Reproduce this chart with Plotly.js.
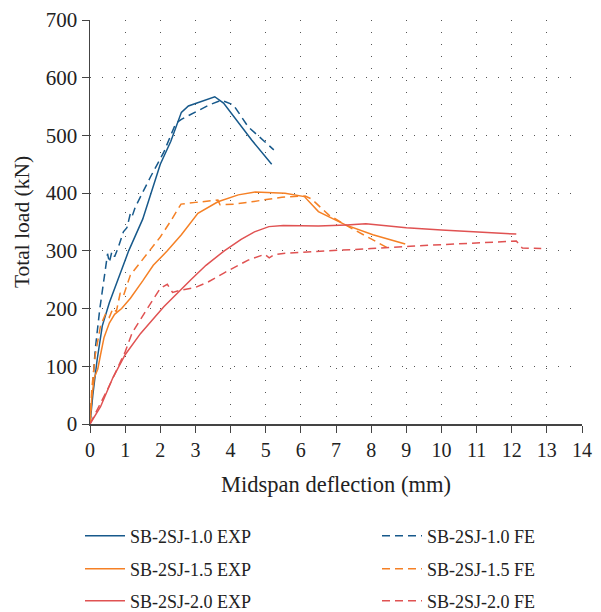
<!DOCTYPE html>
<html>
<head>
<meta charset="utf-8">
<script src="https://cdn.plot.ly/plotly-3.0.1.min.js"></script>
<style>html,body{margin:0;padding:0;background:#fff;}#chart{width:601px;height:612px;}</style>
</head>
<body>
<div id="chart"></div>
<script>
// Series data (x: midspan deflection mm, y: total load kN)
const exp10X = [0,0.08,0.2,0.35,0.55,0.8,1.1,1.5,2.0,2.3,2.6,2.8,3.2,3.55,3.8,4.1,4.6,5.17];
const exp10Y = [0,50,110,170,210,250,300,355,450,490,540,551,560,567,556,532,492,450];
const fe10X = [0,0.05,0.15,0.28,0.42,0.5,0.55,0.62,0.7,0.8,0.95,1.05,1.15,1.2,1.29,1.72,2.1,2.44,2.6,3.0,3.4,3.74,4.08,4.5,5.23];
const fe10Y = [0,45,130,200,260,295,280,298,290,305,333,340,365,360,376,428,471,521,528,540,553,561,553,515,475];
const exp15X = [0,0.05,0.12,0.22,0.3,0.4,0.55,0.7,0.9,1.15,1.5,1.8,2.2,2.6,3.07,3.64,4.22,4.7,5.55,6.1,6.5,7.27,8.05,8.97];
const exp15Y = [0,45,80,95,120,150,175,190,200,218,248,275,300,328,365,385,397,402,400,394,368,345,328,312];
const fe15X = [0,0.05,0.15,0.3,0.45,0.55,0.65,0.75,0.86,0.95,1.15,1.64,2.0,2.3,2.59,3.0,3.64,3.7,4.11,4.6,5.46,6.12,6.3,6.8,7.38,7.96,8.56];
const fe15Y = [0,60,120,170,192,185,200,195,227,222,258,296,324,352,381,384,388,380,381,385,393,395,390,362,341,322,302];
const exp20X = [0,0.3,0.65,1.0,1.44,2.1,2.87,3.3,3.82,4.3,4.68,5.09,5.5,6.5,7.3,7.85,8.5,9.0,10,11,12.13];
const exp20Y = [0,30,80,120,157,203,250,275,300,320,333,342,344,343,345,347,343,340,336,333,329];
const fe20X = [0,0.5,1.0,1.2,1.64,2.0,2.2,2.35,2.59,2.97,3.36,3.82,4.5,4.97,5.1,5.23,5.55,6.98,8,9.11,10.5,12.13,12.3,12.84];
const fe20Y = [0,60,125,158,201,235,242,228,232,236,246,262,284,294,288,293,296,300,304,308,312,317,305,304];

const names = ['SB-2SJ-1.0 EXP','SB-2SJ-1.0 FE','SB-2SJ-1.5 EXP','SB-2SJ-1.5 FE','SB-2SJ-2.0 EXP','SB-2SJ-2.0 FE'];
const xTicks = [0,1,2,3,4,5,6,7,8,9,10,11,12,13,14];
const yTicks = [0,100,200,300,400,500,600,700];

const blue = '#17598b', orange = '#f58025', red = '#e05252';
const dash = '8px,5px';
const F = 'Liberation Serif, Times New Roman, serif';

function tr(x, y, i, color, d, leg) {
  return {x: x, y: y, name: names[i], type: 'scatter', mode: 'lines',
    line: {color: color, width: 1.5, dash: d}, legend: leg};
}
const data = [
  tr(exp10X, exp10Y, 0, blue, 'solid', 'legend'),
  tr(fe10X, fe10Y, 1, blue, dash, 'legend2'),
  tr(exp15X, exp15Y, 2, orange, 'solid', 'legend3'),
  tr(fe15X, fe15Y, 3, orange, dash, 'legend4'),
  tr(exp20X, exp20Y, 4, red, 'solid', 'legend5'),
  tr(fe20X, fe20Y, 5, red, dash, 'legend6')
];

function leg(x, py) {
  return {x: x, xanchor: 'left', y: (424 - py) / 404, yanchor: 'middle', xref: 'paper', yref: 'paper',
    bgcolor: 'rgba(0,0,0,0)', borderwidth: 0, itemwidth: 40, font: {family: F, size: 18, color: '#222'}};
}
const lx1 = (80 - 90) / 492, lx2 = (377 - 90) / 492;

const layout = {
  width: 601, height: 612,
  margin: {l: 90, r: 19, t: 20, b: 188, autoexpand: false},
  paper_bgcolor: '#fff', plot_bgcolor: '#fff',
  font: {family: F, size: 18, color: '#222'},
  showlegend: true,
  xaxis: {range: [0, 14], tickvals: xTicks, ticktext: xTicks.map(String),
    showline: true, linecolor: '#444', linewidth: 1.5, ticks: 'outside', ticklen: 7, tickcolor: '#444',
    showgrid: true, gridcolor: '#555', gridwidth: 1, griddash: '1px,11px', zeroline: false,
    tickfont: {family: F, size: 20, color: '#222'}, automargin: false,
    title: {text: 'Midspan deflection (mm)', font: {family: F, size: 22.5, color: '#222'}, standoff: 16}},
  yaxis: {range: [0, 700], tickvals: yTicks, ticktext: yTicks.map(String),
    showline: true, linecolor: '#444', linewidth: 1.5, ticks: 'outside', ticklen: 7, tickcolor: '#444',
    showgrid: true, gridcolor: '#555', gridwidth: 1, griddash: '1px,11px', zeroline: false,
    tickfont: {family: F, size: 21, color: '#222'}, automargin: false,
    title: {text: 'Total load (kN)', font: {family: F, size: 21.5, color: '#222'}, standoff: 10}},
  legend: leg(lx1, 536), legend2: leg(lx2, 536),
  legend3: leg(lx1, 569), legend4: leg(lx2, 569),
  legend5: leg(lx1, 601), legend6: leg(lx2, 601)
};

Plotly.newPlot('chart', data, layout, {displayModeBar: false, staticPlot: true});
</script>
</body>
</html>
